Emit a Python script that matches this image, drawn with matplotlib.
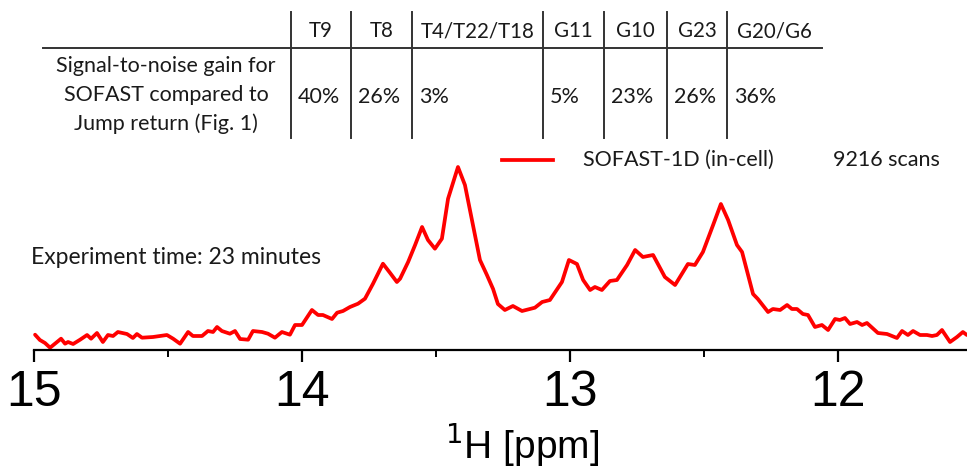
import matplotlib
matplotlib.use("Agg")
import matplotlib.pyplot as plt
from matplotlib.lines import Line2D
from matplotlib.ticker import MultipleLocator

# ---- data ----
ppm = [14.996, 14.978, 14.959, 14.940, 14.922, 14.899, 14.884, 14.873, 14.854, 14.828,
       14.802, 14.787, 14.765, 14.743, 14.724, 14.705, 14.687, 14.653, 14.631, 14.616,
       14.597, 14.556, 14.504, 14.481, 14.455, 14.425, 14.407, 14.373, 14.351, 14.332,
       14.317, 14.299, 14.269, 14.250, 14.231, 14.201, 14.183, 14.149, 14.127, 14.101,
       14.075, 14.045, 14.026, 14.000, 13.963, 13.940, 13.922, 13.888, 13.869, 13.847,
       13.821, 13.791, 13.765, 13.735, 13.698, 13.672, 13.646, 13.634, 13.604, 13.578,
       13.552, 13.530, 13.504, 13.478, 13.455, 13.418, 13.392, 13.362, 13.336, 13.310,
       13.287, 13.269, 13.243, 13.213, 13.179, 13.131, 13.104, 13.075, 13.030, 13.004,
       12.974, 12.951, 12.925, 12.907, 12.881, 12.851, 12.825, 12.787, 12.757, 12.728,
       12.690, 12.646, 12.608, 12.560, 12.534, 12.504, 12.466, 12.437, 12.410, 12.377,
       12.358, 12.317, 12.299, 12.261, 12.243, 12.216, 12.190, 12.172, 12.153, 12.131,
       12.112, 12.086, 12.060, 12.037, 12.011, 11.993, 11.974, 11.955, 11.929, 11.910,
       11.892, 11.851, 11.817, 11.780, 11.761, 11.739, 11.720, 11.694, 11.668, 11.649,
       11.631, 11.612, 11.582, 11.556, 11.534, 11.519]
intensity = [16.3, 11, 8, 3.3, 7.3, 12.3, 7.3, 9, 7, 11.3,
             16, 12.3, 18, 9, 16, 15, 19, 17, 13, 17,
             13.3, 14, 16, 12.3, 7.3, 19, 15, 15, 20, 19,
             24, 20, 17.3, 20, 12, 11.3, 20, 19, 17.3, 13.3,
             19, 16.3, 26, 26, 41, 36, 36, 32, 38.3, 40,
             44, 47.3, 52.3, 67.3, 87.3, 78.3, 69, 72.3, 89, 106,
             124, 111, 102.3, 112.3, 152.3, 184, 166, 126, 91, 76,
             62, 47, 41, 45, 40, 43.3, 49, 51, 69, 91,
             87, 71, 61, 64, 61, 70, 71, 86, 101, 94,
             96, 74, 66, 87, 86, 99, 126, 147, 131, 106,
             99, 57, 52, 39, 42, 41, 46, 42, 42, 37,
             36, 24, 26, 21, 32, 31, 33, 27, 29, 26,
             28, 18, 17, 13, 20, 16, 20, 16, 16, 15,
             16, 21, 9, 14, 19, 16]

table_headers = ["T9", "T8", "T4/T22/T18", "G11", "G10", "G23", "G20/G6"]
table_values = ["40%", "26%", "3%", "5%", "23%", "26%", "36%"]
row_label = "Signal-to-noise gain for\nSOFAST compared to\nJump return (Fig. 1)"
legend_label = "SOFAST-1D (in-cell)"
scans_label = "9216 scans"
exp_time_label = "Experiment time: 23 minutes"
x_ticks = [15, 14, 13, 12]

# ---- figure ----
W, H = 967, 469
fig = plt.figure(figsize=(W / 100, H / 100), dpi=100)

def fx(px):
    return px / W

def fy(py):
    return 1 - py / H

txt_font = ["Lato", "DejaVu Sans"]
axis_font = ["Liberation Sans", "DejaVu Sans"]
TXT = 15.5
tcol = "#1a1a1a"

ax_left, ax_right, ax_top, ax_bot = 34, 967, 140, 350
ax = fig.add_axes([fx(ax_left), fy(ax_bot), fx(ax_right - ax_left), (ax_bot - ax_top) / H])
ax.plot(ppm, [v - 1 for v in intensity], color="#ff0000", lw=2.7, clip_on=False,
        solid_joinstyle="round", solid_capstyle="round")
ax.set_xlim(15, 15 - (ax_right - ax_left) / 268)
ax.set_ylim(0, ax_bot - ax_top)
for s in ["top", "left", "right"]:
    ax.spines[s].set_visible(False)
ax.spines["bottom"].set_linewidth(1.6)
ax.set_yticks([])
ax.set_xticks(x_ticks)
ax.xaxis.set_minor_locator(MultipleLocator(0.5))
ax.tick_params(axis="x", which="major", length=8.5, width=1.6, direction="out", pad=6)
ax.tick_params(axis="x", which="minor", length=5, width=1.4, direction="out")
for lab in ax.get_xticklabels():
    lab.set_fontfamily(axis_font)
    lab.set_fontsize(36)
ax.set_xlabel("$^{1}$H [ppm]", fontsize=28, family=axis_font)
ax.xaxis.set_label_coords((522 - ax_left) / (ax_right - ax_left), -(468 - ax_bot) / (ax_bot - ax_top))
ax.xaxis.label.set_va("bottom")
ax.set_facecolor("none")

# ---- table ----
vlines = [291, 351, 412, 543, 604, 667, 727, 822]
hline_y = 48
fig.add_artist(Line2D([fx(43), fx(822)], [fy(hline_y), fy(hline_y)], color="#333333", lw=1.4))
for v in vlines[:-1]:
    fig.add_artist(Line2D([fx(v), fx(v)], [fy(12), fy(138)], color="#333333", lw=1.4))
for i, (h, val) in enumerate(zip(table_headers, table_values)):
    cx = (vlines[i] + vlines[i + 1]) / 2
    fig.text(fx(cx), fy(31), h, ha="center", va="center", fontsize=14.8, family=txt_font, color=tcol)
    fig.text(fx(vlines[i] + 7), fy(97), val, ha="left", va="center", fontsize=TXT, family=txt_font, color=tcol)
fig.text(fx(166), fy(95), row_label, ha="center", va="center", fontsize=TXT, family=txt_font,
         color=tcol, linespacing=1.55)

# ---- legend & annotations ----
fig.add_artist(Line2D([fx(502), fx(553)], [fy(160), fy(160)], color="#ff0000", lw=2.7))
fig.text(fx(583), fy(160), legend_label, ha="left", va="center", fontsize=TXT, family=txt_font, color=tcol)
fig.text(fx(833), fy(160), scans_label, ha="left", va="center", fontsize=TXT, family=txt_font, color=tcol)
fig.text(fx(31), fy(257), exp_time_label, ha="left", va="center", fontsize=16.5, family=txt_font, color=tcol)

fig.savefig("out.png", dpi=100)
